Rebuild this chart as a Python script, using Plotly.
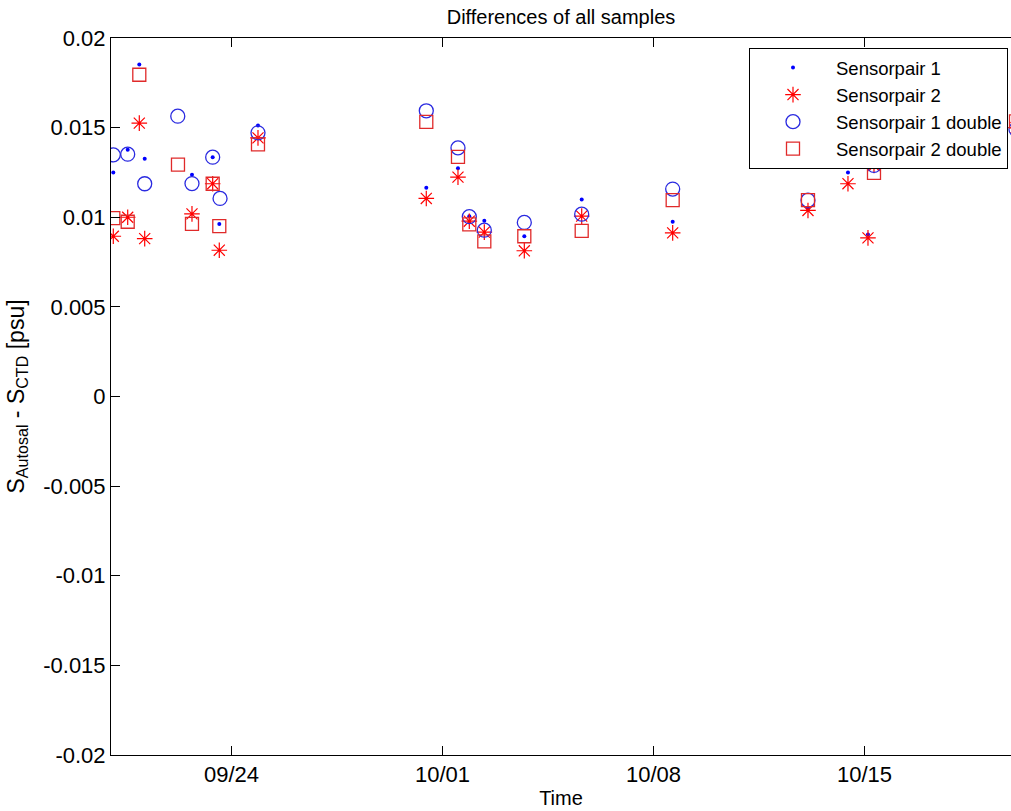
import plotly.graph_objects as go

# ---- data ----
t1 = ["2010-09-20 01:50", "2010-09-20 13:18", "2010-09-20 22:32", "2010-09-21 02:50",
      "2010-09-22 16:29", "2010-09-23 08:58", "2010-09-23 14:14", "2010-09-24 21:03",
      "2010-09-30 11:04", "2010-10-01 12:18", "2010-10-01 21:19", "2010-10-02 09:16",
      "2010-10-03 17:07", "2010-10-05 14:49", "2010-10-08 15:16", "2010-10-13 03:00",
      "2010-10-14 10:51", "2010-10-15 02:47", "2010-10-15 07:34", "2010-10-20 00:39"]
s1 = [0.0125, 0.01376, 0.01852, 0.01326,
      0.01237, 0.01335, 0.00963, 0.01512,
      0.01164, 0.01274, 0.01006, 0.0098,
      0.00894, 0.01099, 0.00975, 0.0105,
      0.0125, 0.00904, 0.01332, 0.0157]

t2 = ["2010-09-20 01:50", "2010-09-20 13:18", "2010-09-20 22:32", "2010-09-21 02:50",
      "2010-09-22 16:29", "2010-09-23 08:58", "2010-09-23 14:14", "2010-09-24 21:03",
      "2010-09-30 11:04", "2010-10-01 12:18", "2010-10-01 21:19", "2010-10-02 09:16",
      "2010-10-03 17:07", "2010-10-05 14:49", "2010-10-08 15:16", "2010-10-13 03:00",
      "2010-10-14 10:51", "2010-10-15 02:47", "2010-10-15 07:34", "2010-10-20 00:39"]
s2 = [0.00894, 0.0100, 0.01525, 0.00881,
      0.01019, 0.01187, 0.00816, 0.01443,
      0.01105, 0.01224, 0.00978, 0.00917,
      0.00813, 0.01006, 0.00913, 0.01038,
      0.01187, 0.00885, 0.01289, 0.0150]

t3 = ["2010-09-20 01:50", "2010-09-20 13:18", "2010-09-21 02:50", "2010-09-22 05:10",
      "2010-09-22 16:29", "2010-09-23 08:58", "2010-09-23 14:50", "2010-09-24 21:03",
      "2010-09-30 11:04", "2010-10-01 12:18", "2010-10-01 21:19", "2010-10-02 09:16",
      "2010-10-03 17:07", "2010-10-05 14:49", "2010-10-08 15:16", "2010-10-13 03:00",
      "2010-10-15 07:34", "2010-10-20 00:39"]
s3 = [0.01348, 0.01352, 0.01187, 0.01564,
      0.01188, 0.01335, 0.01105, 0.01471,
      0.01594, 0.01387, 0.01003, 0.00928,
      0.00971, 0.01017, 0.01157, 0.01095,
      0.01289, 0.0149]

t4 = ["2010-09-20 01:50", "2010-09-20 13:18", "2010-09-20 22:32", "2010-09-22 05:20",
      "2010-09-22 16:29", "2010-09-23 08:58", "2010-09-23 14:14", "2010-09-24 21:03",
      "2010-09-30 11:04", "2010-10-01 12:18", "2010-10-01 21:19", "2010-10-02 09:16",
      "2010-10-03 17:07", "2010-10-05 14:49", "2010-10-08 15:16", "2010-10-13 03:00",
      "2010-10-15 07:34", "2010-10-20 00:39"]
s4 = [0.00995, 0.00975, 0.01795, 0.01294,
      0.00963, 0.01187, 0.0095, 0.01406,
      0.01532, 0.01337, 0.0096, 0.00865,
      0.00894, 0.00924, 0.01095, 0.01095,
      0.01248, 0.01535]

x_tickvals = ["2010-09-24", "2010-10-01", "2010-10-08", "2010-10-15"]
x_ticktext = ["09/24", "10/01", "10/08", "10/15"]
y_tickvals = [-0.02, -0.015, -0.01, -0.005, 0, 0.005, 0.01, 0.015, 0.02]
y_ticktext = ["-0.02", "-0.015", "-0.01", "-0.005", "0", "0.005", "0.01", "0.015", "0.02"]
x_range = ["2010-09-20 00:00", "2010-10-19 20:40"]

FONT = "Liberation Sans, Arial, Helvetica, sans-serif"

fig = go.Figure()
fig.add_trace(go.Scatter(x=t1, y=s1, mode="markers", name="Sensorpair 1",
                         marker=dict(symbol="circle", size=4, color="#0000ff")))
fig.add_trace(go.Scatter(x=t2, y=s2, mode="markers", name="Sensorpair 2",
                         marker=dict(symbol="asterisk-open", size=13, color="#ff0000",
                                     line=dict(width=1.2))))
fig.add_trace(go.Scatter(x=t3, y=s3, mode="markers", name="Sensorpair 1 double",
                         marker=dict(symbol="circle-open", size=14, color="#2a2ae0",
                                     line=dict(width=1.3))))
fig.add_trace(go.Scatter(x=t4, y=s4, mode="markers", name="Sensorpair 2 double",
                         marker=dict(symbol="square-open", size=13, color="#e02a2a",
                                     line=dict(width=1.3))))

fig.update_layout(
    width=1011, height=811,
    margin=dict(l=111, r=0, t=38, b=56),
    paper_bgcolor="white", plot_bgcolor="white",
    font=dict(family=FONT, size=20, color="black"),
    title=dict(text="Differences of all samples", x=561 / 1011, xanchor="center",
               y=(811 - 17) / 811, yanchor="middle", yref="container",
               font=dict(size=20, color="black")),
    showlegend=True,
    legend=dict(x=(1008 - 111) / 900, xref="paper", xanchor="right",
                y=1 - 10 / 717, yref="paper", yanchor="top",
                bgcolor="white", bordercolor="black", borderwidth=1,
                font=dict(size=18.5), tracegroupgap=0, itemsizing="trace",
                itemwidth=76),
    xaxis=dict(range=x_range, type="date", tickvals=x_tickvals, ticktext=x_ticktext,
               ticks="inside", ticklen=9, tickcolor="black", showline=True,
               linecolor="black", linewidth=1, mirror="ticks", showgrid=False,
               zeroline=False, title=dict(text="Time", standoff=4, font=dict(size=20)),
               tickfont=dict(size=22)),
    yaxis=dict(range=[-0.02, 0.02], tickvals=y_tickvals, ticktext=y_ticktext,
               ticks="inside", ticklen=9, tickcolor="black", showline=True,
               linecolor="black", linewidth=1, mirror=False, showgrid=False,
               zeroline=False, tickfont=dict(size=22),
               title=dict(text="S<sub>Autosal</sub> - S<sub>CTD</sub> [psu]",
                          standoff=12, font=dict(size=23))),
)

fig.write_html("out.html")
